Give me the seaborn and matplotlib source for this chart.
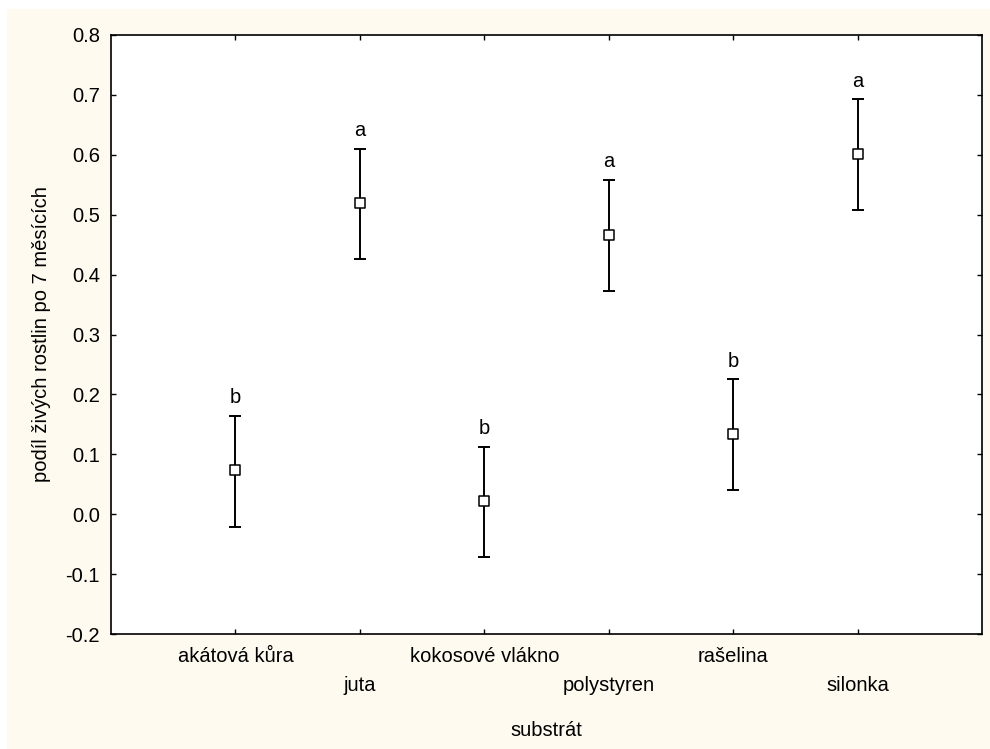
import numpy as np
import pandas as pd
import matplotlib
matplotlib.use("Agg")
import matplotlib.pyplot as plt
from matplotlib.patches import Rectangle
import seaborn as sns

# data
substrates = ["akátová kůra", "juta", "kokosové vlákno", "polystyren", "rašelina", "silonka"]
means = [0.073, 0.520, 0.022, 0.466, 0.134, 0.602]
upper = [0.164, 0.610, 0.113, 0.558, 0.225, 0.693]
lower = [-0.021, 0.426, -0.071, 0.373, 0.041, 0.508]
groups = ["b", "a", "b", "a", "b", "a"]
y_ticks = [-0.2, -0.1, 0.0, 0.1, 0.2, 0.3, 0.4, 0.5, 0.6, 0.7, 0.8]

sns.set_style("ticks")
plt.rcParams['font.family'] = ['Liberation Sans', 'DejaVu Sans']
plt.rcParams['text.color'] = 'black'
plt.rcParams['axes.labelcolor'] = 'black'
FS = 14.5

df = pd.DataFrame({"substrat": substrates, "mean": means,
                   "upper": upper, "lower": lower, "group": groups})
df["pos"] = np.arange(1, len(df) + 1)

fig = plt.figure(figsize=(9.9, 7.49), dpi=100)
fig.patch.set_facecolor("white")
fig.add_artist(Rectangle((7 / 990, 0), 1, 1 - 9 / 749, transform=fig.transFigure,
                         facecolor="#FFFAF0", edgecolor="none", zorder=-10))
ax = fig.add_axes([111 / 990, 1 - 634 / 749, (982 - 111) / 990, (634 - 35) / 749])
ax.set_facecolor("white")

yerr = np.vstack([df["mean"] - df["lower"], df["upper"] - df["mean"]])
ax.errorbar(df["pos"], df["mean"], yerr=yerr, fmt="none", ecolor="black",
            elinewidth=1.4, capsize=4.5, capthick=1.4, zorder=2)
sns.scatterplot(data=df, x="pos", y="mean", marker="s", s=55, color="white",
                edgecolor="black", linewidth=1.1, ax=ax, zorder=3, legend=False)

for _, row in df.iterrows():
    ax.annotate(row["group"], (row["pos"], row["upper"]), xytext=(0, 9),
                textcoords="offset points", ha="center", va="baseline",
                fontsize=FS, color="black")

ax.set_xlim(0, 7)
ax.set_ylim(-0.2, 0.8)
ax.set_yticks(y_ticks)
ax.set_yticklabels([f"{v:.1f}" for v in y_ticks])
ax.set_xticks(df["pos"])
ax.set_xticklabels(df["substrat"])

for side in ["top", "right", "left", "bottom"]:
    ax.spines[side].set_visible(True)
    ax.spines[side].set_linewidth(1.2)
    ax.spines[side].set_color("black")

ax.tick_params(axis="both", direction="in", length=3.5, width=1.0, labelsize=FS,
               top=True, right=True, colors="black", labelcolor="black")
ax.tick_params(axis="y", pad=8)

# alternate tick labels on two rows
for i, tick in enumerate(ax.xaxis.get_major_ticks()):
    tick.set_pad(9 if i % 2 == 0 else 30)

ax.set_xlabel("substrát", fontsize=FS, labelpad=19, color="black")
ax.set_ylabel("podíl živých rostlin po 7 měsících", fontsize=FS, labelpad=10, color="black")

fig.savefig("out.png", dpi=100, facecolor=fig.get_facecolor())
